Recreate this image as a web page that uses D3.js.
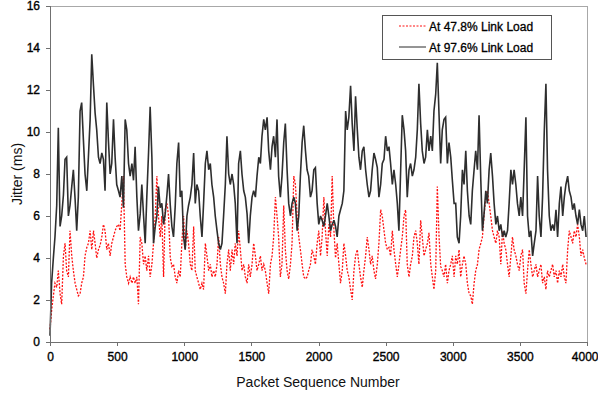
<!DOCTYPE html>
<html><head><meta charset="utf-8">
<script src="https://cdn.jsdelivr.net/npm/d3@7"></script>
<style>body{margin:0;background:#fff}svg{display:block}text{font-family:"Liberation Sans",Arial,sans-serif}</style>
</head><body><svg id="c" width="598" height="395"></svg>
<script>
const seq = [0,12,25,37,50,62,75,87,100,112,124,137,149,162,174,187,199,211,224,236,249,261,274,286,299,311,324,336,348,361,373,386,398,410,423,435,448,460,473,485,497,510,522,535,547,560,572,585,597,610,622,634,647,659,672,684,697,709,721,734,746,759,771,784,796,808,821,833,846,858,871,883,896,908,920,933,945,958,
970,982,995,1007,1020,1032,1045,1057,1070,1082,1094,1107,1119,1132,1144,1157,1169,1182,1194,1206,1219,1231,1244,1256,1269,1281,1293,1306,1318,1331,1343,1356,1368,1380,1393,1405,1418,1430,1443,1455,1468,1480,1492,1505,1517,1530,1542,1555,1567,1579,1592,1604,1617,1629,1642,1654,1666,1679,1691,1703,1716,1728,1741,1753,1766,1778,1791,1803,1816,1828,1841,1853,1865,1878,1890,1903,1915,1927,1940,1952,1965,1977,1990,2002,
2015,2027,2040,2052,2065,2077,2090,2102,2115,2127,2139,2152,2164,2177,2189,2202,2214,2226,2239,2251,2264,2276,2289,2301,2313,2326,2338,2351,2363,2376,2388,2400,2413,2425,2438,2450,2463,2475,2488,2500,2513,2525,2537,2550,2562,2575,2587,2599,2612,2624,2637,2649,2661,2674,2686,2699,2711,2724,2736,2748,2761,2773,2786,2798,2811,2823,2836,2848,2860,2873,2885,2898,2910,2922,2935,2947,2960,2972,2985,2997,3010,
3022,3034,3047,3059,3072,3084,3097,3109,3122,3134,3146,3159,3171,3184,3196,3209,3221,3233,3246,3258,3271,3283,3296,3308,3321,3333,3346,3358,3371,3383,3395,3408,3420,3433,3445,3457,3470,3482,3495,3507,3520,3532,3545,3557,3570,3582,3595,3607,3620,3632,3644,3657,3669,3682,3694,3706,3719,3731,3744,3756,3769,3781,3794,3806,3819,3831,3843,3856,3868,3881,3893,3905,3918,3930,3943,3955,3968,3980,3993];

const load478 = [0.6,1.5,2.2,2.8,2.6,3.4,2.3,1.8,4.1,4.7,3.4,3.1,5.3,4.1,3.4,2.8,2.5,2.2,2.3,2.8,3.1,4.1,4.5,4.7,5.3,4.4,5.3,4.7,4.0,4.4,4.6,5.0,5.6,5.3,4.4,4.7,4.1,4.7,5.0,5.3,5.5,5.6,5.3,6.6,7.9,3.7,3.1,2.8,3.1,2.8,3.1,2.8,3.1,1.8,5.0,4.7,3.7,4.1,3.4,4.1,3.1,3.7,4.7,6.0,7.9,6.0,5.0,6.0,3.1,6.3,6.6,6.0,4.0,3.6,3.7,3.1,2.8,3.4,
3.1,4.7,6.0,4.4,5.3,4.7,3.7,3.4,5.5,3.4,3.1,2.8,2.5,2.8,2.5,4.7,4.1,3.4,3.7,3.1,3.4,3.1,3.7,5.0,3.7,3.1,2.8,2.3,3.7,4.4,3.4,4.4,3.7,4.7,4.1,5.3,4.4,3.4,3.7,3.1,2.8,3.7,3.1,3.7,4.7,4.1,3.4,3.7,4.1,3.4,3.7,3.4,2.8,2.3,3.7,4.1,5.0,6.9,6.0,5.0,3.1,3.7,6.5,4.4,3.4,3.0,3.7,4.7,7.9,7.5,6.0,5.0,4.4,3.7,3.1,3.0,3.1,3.4,3.7,4.4,4.1,3.7,4.7,5.3,
4.1,5.0,6.9,5.3,4.1,5.6,5.0,7.9,5.3,4.0,4.7,3.7,2.8,3.4,4.7,4.1,3.4,3.1,2.5,2.0,3.4,4.1,4.4,3.7,3.1,2.6,3.4,4.1,5.0,4.4,3.7,4.1,3.4,3.0,3.7,4.7,6.3,6.0,5.3,4.7,4.4,4.5,4.1,5.3,4.4,3.7,3.1,3.7,4.4,5.0,6.0,6.3,3.7,3.1,3.7,4.1,5.0,5.3,4.7,3.7,5.8,5.0,4.1,4.4,4.7,5.2,3.7,3.1,2.5,3.4,7.4,5.0,3.6,3.4,3.1,3.7,2.8,3.4,3.7,4.1,3.1,
4.1,3.7,4.4,3.1,3.7,4.1,3.7,2.8,2.3,2.2,1.8,2.8,3.4,3.7,4.4,4.7,5.0,6.0,6.9,7.2,6.6,6.0,5.3,5.0,4.7,5.3,5.0,3.7,5.3,4.7,4.4,3.7,3.1,4.1,5.0,4.4,4.1,3.7,3.4,4.1,4.4,2.8,2.3,3.4,4.4,3.7,3.1,3.4,3.7,3.1,3.4,3.7,2.8,3.1,2.5,3.4,3.1,3.4,3.7,3.1,3.4,2.8,3.4,3.1,3.7,3.1,2.8,4.4,5.3,5.0,4.7,5.3,5.0,5.6,5.0,4.1,4.4,4.0,3.7];

const load976 = [0.3,2.8,4.0,5.0,6.5,10.2,5.5,6.0,7.0,8.7,8.8,6.0,6.5,7.4,8.2,6.8,5.3,6.9,11.0,11.4,9.6,8.0,7.2,8.8,10.6,13.7,12.2,10.9,10.1,8.8,8.5,9.0,8.7,7.2,11.4,9.6,8.0,8.5,10.6,8.8,7.5,7.2,6.9,7.9,6.4,10.6,10.1,8.5,7.9,8.5,7.7,9.3,6.9,5.3,6.1,7.5,6.0,4.7,6.9,9.0,11.2,8.8,4.7,5.5,6.0,7.4,6.4,6.6,5.6,6.1,7.0,8.0,6.5,5.5,5.0,6.5,8.5,9.5,
6.9,7.2,5.0,4.4,6.0,6.5,6.9,7.5,9.0,6.6,7.5,7.2,6.0,5.0,6.6,8.5,9.1,8.2,8.5,7.5,6.9,6.0,5.3,4.7,4.4,4.7,6.0,7.5,9.8,8.0,7.5,8.0,7.5,6.6,4.7,8.5,9.1,8.0,7.2,6.9,6.1,4.7,6.0,6.9,7.2,6.9,7.9,8.8,8.5,9.8,10.6,10.1,10.7,9.1,8.2,9.3,9.8,8.8,10.6,7.9,6.9,7.9,9.5,10.4,8.2,6.6,6.0,6.6,6.9,6.6,5.3,6.0,7.9,9.5,10.3,9.1,8.2,7.9,6.9,7.2,8.2,8.3,6.6,5.6,
6.0,5.8,5.5,6.0,6.6,6.0,5.3,5.6,5.8,5.5,5.0,6.0,6.3,6.6,7.2,11.0,10.1,10.7,12.2,10.4,9.1,11.7,10.1,8.8,8.2,9.1,9.3,8.2,7.5,6.9,7.2,8.2,9.0,8.7,8.3,6.9,7.5,8.5,8.7,9.8,9.1,9.3,8.5,7.5,8.2,7.5,6.6,5.3,8.2,10.8,10.1,9.1,6.9,8.2,8.5,7.9,8.2,8.8,10.1,12.3,10.4,9.1,8.5,8.8,10.1,9.1,9.8,9.1,11.0,11.8,13.3,10.8,8.5,10.1,10.6,10.7,8.5,9.5,8.8,7.7,6.6,
6.6,5.0,4.7,6.0,8.2,7.5,9.1,7.2,6.0,5.6,7.2,8.2,9.1,8.2,10.8,7.7,5.3,6.1,7.2,6.6,8.2,9.0,7.9,6.6,5.6,6.0,5.3,5.6,5.0,5.3,5.0,5.3,6.6,8.2,7.5,8.2,7.5,6.6,6.0,6.9,6.0,8.2,10.7,6.0,5.0,5.3,4.1,4.7,5.3,7.9,6.0,5.0,6.9,10.1,12.3,8.2,6.0,5.3,5.6,5.3,6.3,5.0,6.6,7.4,6.0,6.9,7.5,7.9,7.2,6.9,6.3,6.6,6.0,5.6,6.3,5.6,5.3,6.0,5.0];

const xTicks = [0,500,1000,1500,2000,2500,3000,3500,4000];
const yTicks = [0,2,4,6,8,10,12,14,16];
const seriesNames = ["At 47.8% Link Load","At 97.6% Link Load"];

const svg = d3.select("#c");
const L=50, R=587, T=6, B=342;
const x = d3.scaleLinear().domain([0,4000]).range([L,R]);
const y = d3.scaleLinear().domain([0,16]).range([B,T]);

// frame
svg.append("rect").attr("x",L).attr("y",T).attr("width",R-L).attr("height",B-T)
  .attr("fill","none").attr("stroke","#a8a8a8").attr("stroke-width",1).attr("shape-rendering","crispEdges");

const line = d3.line().x((d,i)=>x(seq[i])).y(d=>y(d));
const g = svg.append("g");
g.append("path").datum(load478).attr("d",line).attr("fill","none")
  .attr("stroke","#ff1010").attr("stroke-width",1.3).attr("stroke-dasharray","2,1.5");
g.append("path").datum(load976).attr("d",line).attr("fill","none")
  .attr("stroke","#2e2e2e").attr("stroke-width",1.6).attr("stroke-linejoin","miter").attr("stroke-miterlimit",3);

// axes
const xa = svg.append("g").attr("transform",`translate(0,${B})`)
  .call(d3.axisBottom(x).tickValues(xTicks).tickSize(4).tickPadding(6).tickFormat(d3.format("d")));
const ya = svg.append("g").attr("transform",`translate(${L},0)`)
  .call(d3.axisLeft(y).tickValues(yTicks).tickSize(4).tickPadding(6));
[xa,ya].forEach(a=>{
  a.selectAll("path").attr("stroke","#707070").attr("shape-rendering","crispEdges");
  a.selectAll("line").attr("stroke","#707070").attr("shape-rendering","crispEdges");
  a.selectAll("text").attr("font-size","12px").attr("fill","#000").attr("stroke","#000").attr("stroke-width",0.35)
    .attr("font-family","'Liberation Sans',Arial,sans-serif");
});
xa.selectAll(".tick").filter(d=>d===4000).select("text").attr("text-anchor","end").attr("x",11);

svg.append("text").attr("x",318).attr("y",387).attr("text-anchor","middle")
  .attr("font-size","14px").attr("fill","#111").text("Packet Sequence Number");
svg.append("text").attr("transform","translate(22,174) rotate(-90)").attr("text-anchor","middle")
  .attr("font-size","14px").attr("fill","#111").text("Jitter (ms)");

// legend
const lg = svg.append("g");
lg.append("rect").attr("x",382.5).attr("y",15.5).attr("width",169).attr("height",44)
  .attr("fill","#fff").attr("stroke","#555");
const lcol=["#ff1010","#2a2a2a"], ldash=["2,1.5",null], ly=[26,47];
seriesNames.forEach((n,i)=>{
  lg.append("line").attr("x1",399).attr("x2",426).attr("y1",ly[i]).attr("y2",ly[i])
    .attr("stroke",lcol[i]).attr("stroke-width",1).attr("stroke-dasharray",ldash[i]);
  lg.append("text").attr("x",429).attr("y",ly[i]+4.5).attr("font-size","12px").attr("fill","#000")
    .attr("stroke","#000").attr("stroke-width",0.3).text(n);
});
</script></body></html>
